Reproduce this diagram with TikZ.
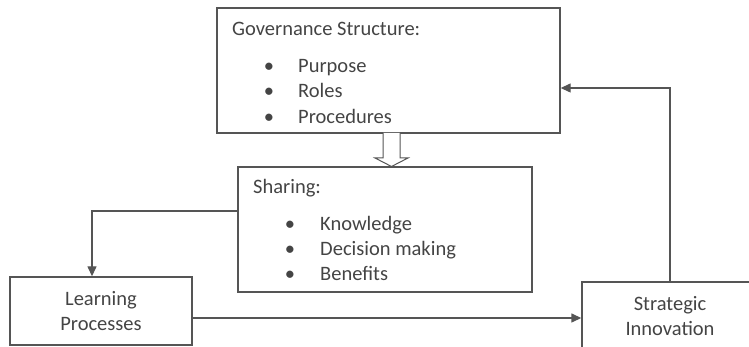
\documentclass[tikz,border=0pt]{standalone}
\usepackage{fontspec}
\setmainfont{Carlito}
\usetikzlibrary{arrows.meta}
\definecolor{linegray}{HTML}{555555}
\definecolor{textgray}{HTML}{444444}

\begin{document}
\begin{tikzpicture}[x=1pt,y=1pt,
  box/.style={draw=linegray, line width=1.4pt, rectangle, inner sep=0pt,
    text=textgray, align=center, font=\fontsize{20.5}{24.5}\selectfont},
  txt/.style={text=textgray, font=\fontsize{20.5}{24}\selectfont, inner sep=0pt, anchor=base west},
  dot/.style={text=textgray, font=\fontsize{20.5}{24}\selectfont, inner sep=0pt, anchor=base},
  lnk/.style={draw=linegray, line width=1.4pt, -{Triangle[length=10pt,width=9pt]}}]
\useasboundingbox (0,0) rectangle (749,347);
\clip (0,0) rectangle (749,347);

% the four blocks
\node[box, minimum width=343, minimum height=125] (gov) at (388.5,276.5) {};
\node[box, minimum width=294, minimum height=125] (share) at (385,117.5) {};
\node[box, minimum width=182, minimum height=68] (learn) at (101,36) {Learning\\Processes};
\node[box, minimum width=176, minimum height=68] (strat) at (670,31) {Strategic\\Innovation};

% governance text
\node[txt] (govtitle) at (232,311) {Governance Structure:};
\foreach \name/\item/\yb in {purpose/Purpose/274, roles/Roles/249, proc/Procedures/223}{
  \node[dot] (\name dot) at (269,\yb) {\textbullet};
  \node[txt] (\name) at (298,\yb) {\item};
}

% sharing text
\node[txt] (sharetitle) at (253,153) {Sharing:};
\foreach \name/\item/\yb in {know/Knowledge/116, decide/Decision making/91, benefit/Benefits/66}{
  \node[dot] (\name dot) at (290,\yb) {\textbullet};
  \node[txt] (\name) at (320,\yb) {\item};
}

% hollow arrow between governance and sharing
\draw[linegray, line width=1pt, fill=white] (383,214)--(383,189)--(375,189)--(391.5,180.5)
--(408,189)--(400,189)--(400,214);

% connectors
\draw[lnk] ([yshift=18.5]share.west) -| ([xshift=-9]learn.north);
\draw[lnk] ([yshift=-7]learn.east) -- ([yshift=-7]learn.east -| strat.west);
\draw[lnk] (strat.north) |- ([yshift=-17.5]gov.east);
\end{tikzpicture}
\end{document}
